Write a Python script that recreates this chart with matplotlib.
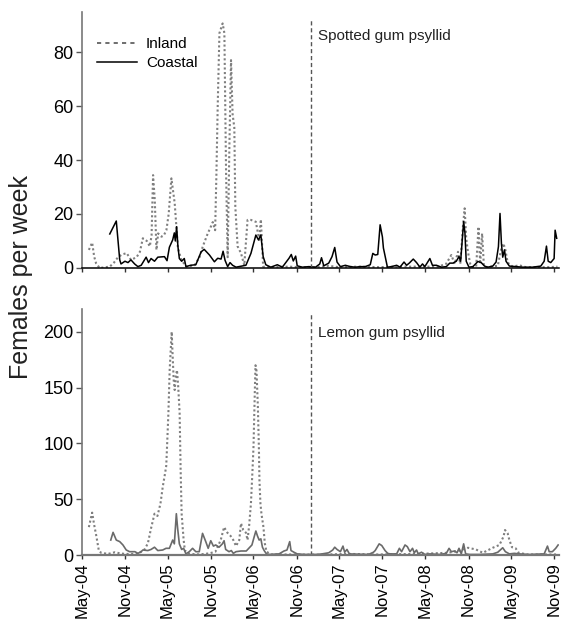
import numpy as np
import pandas as pd
import matplotlib
matplotlib.use("Agg")
import matplotlib.pyplot as plt
from matplotlib.lines import Line2D

plt.rcParams['font.family'] = ['Liberation Sans', 'DejaVu Sans']

START = pd.Timestamp('2004-05-01')

# ---- Spotted gum psyllid (top) ; x = months after 1 May 2004 ----
spotted_inland_t = [1.0, 1.46, 1.74, 2.01, 2.5, 3.92, 4.51, 5.07, 5.63, 6.28, 6.88, 7.67, 8.13, 8.54,
                    9.1, 9.51, 9.76, 9.97, 10.21, 10.44, 10.67, 11.14, 11.46, 11.83, 12.15, 12.53,
                    12.99, 13.44, 13.92, 14.61, 15.76, 16.46, 16.92, 17.61, 17.99, 18.31, 18.64,
                    18.82, 19.0, 19.24, 19.69, 19.93, 20.17, 20.39, 20.63, 20.86, 21.08, 21.32,
                    21.46, 21.78, 22.25, 22.71, 23.17, 23.64, 24.33, 24.79, 25.03, 25.21, 25.35,
                    26.18, 28.96, 30.35, 32.43, 34.51, 35.9, 38.69, 41.46, 44.24, 47.01, 49.79,
                    50.9, 51.64, 52.11, 52.57, 52.89, 53.26, 53.5, 53.72, 53.96, 54.28, 54.65,
                    55.11, 55.44, 55.67, 55.94, 56.18, 56.5, 58.13, 58.58, 58.92, 59.19, 59.51,
                    60.21, 61.14, 62.06, 65.35, 66.46]
spotted_inland = [6.7, 9.4, 4.2, 1.7, 0.0, 0.5, 2.0, 4.0, 5.0, 5.5, 3.0, 4.0, 6.0, 11.0,
                  10.0, 8.0, 12.0, 34.4, 25.0, 6.7, 12.8, 11.6, 12.0, 14.0, 20.0, 33.2,
                  24.0, 7.4, 3.0, 0.5, 1.0, 4.0, 8.0, 12.8, 15.0, 17.0, 14.0,
                  35.0, 60.0, 87.0, 90.6, 87.0, 35.0, 4.0, 45.0, 77.0, 57.0, 52.0,
                  22.7, 8.0, 5.5, 1.0, 17.8, 17.8, 17.1, 10.4, 18.0, 8.0, 0.5,
                  0.3, 0.5, 0.3, 0.2, 0.8, 0.3, 0.5, 0.3, 0.5, 0.5, 0.5,
                  1.5, 4.8, 1.5, 6.0, 1.5, 15.3, 22.1, 11.0, 6.0, 1.5, 0.3,
                  0.5, 15.3, 1.5, 12.8, 1.2, 0.3, 0.8, 6.7, 9.1, 6.7, 2.0,
                  0.5, 1.0, 0.3, 0.3, 0.5]

spotted_coastal_t = [3.92, 4.83, 5.31, 5.49, 6.04, 6.46, 6.88, 7.39, 7.85, 8.31, 9.0, 9.33, 9.69,
                     10.17, 10.63, 11.56, 11.92, 12.25, 12.71, 12.94, 13.08, 13.26, 13.44, 13.64,
                     13.96, 14.33, 14.56, 15.21, 15.94, 16.69, 17.11, 17.85, 18.54, 19.0, 19.47,
                     19.75, 20.03, 20.39, 20.72, 21.08, 21.56, 22.94, 23.64, 24.33, 24.69, 25.03,
                     25.35, 25.72, 26.42, 27.33, 28.03, 28.96, 29.28, 29.56, 29.89, 30.11, 30.81,
                     31.74, 32.67, 33.26, 33.5, 33.82, 34.51, 34.97, 35.35, 35.67, 36.14, 36.83,
                     37.53, 38.22, 38.92, 39.61, 40.31, 40.67, 41.0, 41.36, 41.69, 42.01, 42.15,
                     42.71, 43.26, 44.0, 44.47, 45.03, 45.39, 45.76, 46.32, 46.78, 47.25, 47.61,
                     47.94, 48.64, 49.0, 49.56, 50.25, 50.94, 51.42, 51.88, 52.33, 52.71, 52.94,
                     53.17, 53.36, 53.54, 53.72, 54.1, 54.65, 55.35, 55.81, 56.28, 56.74, 57.43,
                     57.89, 58.22, 58.44, 58.64, 58.82, 59.06, 59.28, 59.75, 60.67, 61.6, 62.99,
                     64.14, 64.61, 64.93, 65.17, 65.53, 66.0, 66.14, 66.36]
spotted_coastal = [12.6, 17.4, 3.0, 1.5, 2.5, 2.0, 3.0, 1.5, 0.5, 1.0, 4.0, 2.0, 3.5,
                   2.5, 4.0, 4.2, 2.7, 7.7, 10.4, 13.0, 10.0, 15.3, 8.0, 3.5,
                   2.5, 3.5, 0.5, 1.0, 1.2, 6.0, 6.9, 4.8, 2.3, 3.6, 3.3,
                   6.2, 2.8, 0.5, 2.0, 1.0, 0.3, 1.0, 5.4, 12.2, 10.4, 12.2,
                   4.2, 1.2, 0.3, 1.2, 0.3, 3.6, 5.0, 2.6, 4.4, 0.8, 0.3,
                   0.5, 0.3, 1.5, 3.8, 0.8, 1.8, 4.2, 7.6, 2.2, 0.5, 1.0,
                   0.5, 0.3, 0.5, 0.5, 1.2, 5.4, 4.8, 5.0, 16.0, 11.5, 7.4,
                   0.3, 0.5, 1.0, 0.3, 2.2, 1.0, 1.8, 3.3, 2.0, 0.3, 1.5,
                   0.5, 3.5, 1.0, 1.0, 0.3, 0.5, 1.8, 1.8, 2.5, 4.2, 2.5,
                   10.4, 17.2, 13.0, 2.5, 0.3, 0.5, 2.4, 2.0, 0.7, 0.3, 0.7,
                   2.2, 7.9, 20.2, 9.0, 4.0, 6.7, 2.5, 0.7, 0.5, 0.3, 0.3,
                   0.7, 2.5, 8.1, 2.5, 2.0, 3.5, 14.0, 11.0]

# ---- Lemon gum psyllid (bottom) ----
lemon_inland_t = [1.0, 1.46, 1.74, 2.06, 2.39, 2.71, 3.68, 4.65, 5.35, 6.04, 7.01, 7.85, 8.78,
                  9.24, 9.69, 10.17, 10.58, 11.0, 11.32, 11.64, 11.81, 11.92, 12.11, 12.29,
                  12.57, 12.67, 12.85, 12.99, 13.15, 13.31, 13.49, 13.68, 13.82, 13.96, 14.24,
                  14.42, 15.07, 16.46, 17.85, 18.68, 19.42, 19.89, 20.35, 20.81, 21.18, 21.56,
                  22.01, 22.25, 22.57, 22.94, 23.17, 23.4, 23.64, 23.86, 24.0, 24.19, 24.28,
                  24.42, 24.61, 24.75, 24.83, 24.97, 25.11, 25.39, 25.58, 25.81, 26.46, 28.96,
                  33.13, 37.29, 41.46, 47.01, 51.18, 52.85, 53.96, 55.07, 56.04, 57.43, 58.36,
                  58.92, 59.14, 59.51, 59.75, 60.11, 60.63, 61.04, 62.28, 66.46]
lemon_inland = [25, 38, 27, 16.4, 4, 2, 1, 2.5, 1.5, 1, 1, 1, 5,
                10.4, 24, 37, 35, 46, 61, 73, 80, 97, 127, 166,
                200, 183.6, 156.7, 147.8, 160, 165.7, 150, 127, 76, 37, 13.4,
                4, 1, 0.5, 1.5, 3, 13.4, 25, 20, 17, 13.4, 8,
                13.4, 28.4, 22.4, 20, 13.4, 27, 46, 76, 97, 148, 170,
                165, 133, 97, 67, 46, 37, 25, 10.5, 3, 0.5, 0.5,
                0.3, 1, 0.5, 1, 2, 4, 6.5, 5, 2, 6.5, 9,
                16.4, 22.4, 19.4, 13.4, 7, 6, 2, 0.5, 0.5]

lemon_coastal_t = [4.06, 4.38, 4.83, 5.31, 5.76, 6.22, 6.69, 7.43, 7.85, 8.31, 8.54, 9.24, 9.69,
                   10.17, 10.63, 11.32, 11.78, 12.25, 12.71, 12.94, 13.22, 13.4, 13.64, 13.96,
                   14.24, 14.56, 15.03, 15.49, 15.94, 16.42, 16.88, 17.33, 17.67, 18.03, 18.4,
                   18.72, 19.19, 19.65, 19.89, 20.11, 20.58, 20.9, 21.18, 21.56, 22.25, 22.99,
                   23.78, 24.1, 24.33, 24.56, 24.79, 25.03, 25.25, 25.49, 25.81, 26.18, 27.57,
                   28.26, 28.68, 29.06, 29.24, 29.65, 30.11, 31.04, 32.85, 33.58, 34.51, 35.07,
                   35.35, 35.67, 36.14, 36.5, 36.74, 37.06, 37.39, 38.22, 40.07, 40.76, 41.0,
                   41.56, 41.92, 42.38, 42.75, 43.08, 44.0, 44.38, 44.69, 45.17, 45.49, 45.86,
                   46.22, 46.46, 46.78, 47.01, 47.47, 47.94, 48.64, 50.03, 50.94, 51.32, 51.64,
                   52.11, 52.43, 52.71, 53.03, 53.36, 53.64, 54.19, 55.58, 57.43, 58.13, 58.82,
                   59.19, 59.75, 60.44, 61.14, 62.53, 64.61, 65.07, 65.31, 65.76, 66.22, 66.56]
lemon_coastal = [13.4, 20.3, 13.4, 12, 9, 4.5, 3, 3, 1.5, 3, 4.5, 4, 5,
                 7, 4, 4.5, 6, 6, 13.4, 10, 37, 24, 10, 5,
                 6, 1, 3, 6, 3, 3, 19.4, 12, 6, 12.8, 8,
                 9, 7, 10, 12.8, 5, 3, 4, 1.5, 3, 3.6, 3.6,
                 9, 16.4, 21.5, 17, 13.4, 14.5, 7, 4, 1, 0.5, 1,
                 3.6, 4.5, 12, 4, 2.5, 1, 0.5, 0.5, 1, 2, 4.5,
                 7, 5, 3, 8, 2.5, 5, 1, 0.8, 0.5, 2.5, 4,
                 10, 8.5, 4, 1.5, 1, 1, 6, 3, 9, 7.5, 3,
                 6, 2, 4.5, 1, 2.5, 0.5, 1, 0.5, 1.5, 6, 3,
                 3.6, 2, 6, 1, 10, 1, 0.5, 0.5, 1, 2.5, 6.5,
                 3, 1, 1.5, 1, 0.5, 1, 8, 3, 3, 6, 9]

tick_labels = ['May-04', 'Nov-04', 'May-05', 'Nov-05', 'May-06', 'Nov-06',
               'May-07', 'Nov-07', 'May-08', 'Nov-08', 'May-09', 'Nov-09']
change_date = '2007-01-01'
panel_titles = ['Spotted gum psyllid', 'Lemon gum psyllid']


def to_dates(t):
    return START + pd.to_timedelta(np.asarray(t) * 30.4375, unit='D')


fig = plt.figure(figsize=(5.62, 6.27), dpi=100)
ax1 = fig.add_axes([0.1454, 0.5726, 0.8490, 0.409])
ax2 = fig.add_axes([0.1454, 0.1148, 0.8490, 0.3917])

inland_style = dict(color='#7f7f7f', lw=1.5, linestyle=(0, (1.0, 1.2)))

ax1.plot(to_dates(spotted_inland_t), spotted_inland, **inland_style)
ax1.plot(to_dates(spotted_coastal_t), spotted_coastal, color='black', lw=1.1)
ax2.plot(to_dates(lemon_inland_t), lemon_inland, **inland_style)
ax2.plot(to_dates(lemon_coastal_t), lemon_coastal, color='#6a6a6a', lw=1.2)

tick_dates = [pd.Timestamp(f"20{s[-2:]}-{'05' if s.startswith('May') else '11'}-01") for s in tick_labels]
xmin = START
xmax = pd.Timestamp('2009-11-20')

for ax, ylim, yt, title, ymax in [(ax1, 95, [0, 20, 40, 60, 80], panel_titles[0], 0.975),
                                  (ax2, 220, [0, 50, 100, 150, 200], panel_titles[1], 0.985)]:
    ax.set_xlim(xmin, xmax)
    ax.set_ylim(0, ylim)
    ax.set_yticks(yt)
    ax.set_xticks(tick_dates)
    ax.spines['top'].set_visible(False)
    ax.spines['right'].set_visible(False)
    ax.spines['left'].set_color('#777777')
    ax.spines['left'].set_linewidth(1.2)
    ax.tick_params(axis='y', direction='out', length=4, width=1, color='#555555',
                   labelsize=13, pad=2)
    ax.tick_params(axis='x', direction='out', length=3, width=1, color='#333333',
                   labelsize=12, pad=2)
    ax.axvline(pd.Timestamp(change_date), ymin=0, ymax=ymax, color='#555555', lw=1.0,
               linestyle=(0, (3, 2)))
    ax.text(pd.Timestamp(change_date) + pd.Timedelta(days=30), ylim * 0.905, title,
            fontsize=11, color='#222222', va='center', ha='left')

ax1.spines['bottom'].set_color('black')
ax1.spines['bottom'].set_linewidth(1.1)
ax1.set_xticklabels([])
ax2.spines['bottom'].set_color('#777777')
ax2.spines['bottom'].set_linewidth(1.6)
ax2.set_xticklabels(tick_labels, rotation=90)

handles = [Line2D([], [], color='#555555', lw=1.2, linestyle=(0, (2.5, 2.5))),
           Line2D([], [], color='black', lw=1.1)]
ax1.legend(handles, ['Inland', 'Coastal'], loc='upper left', bbox_to_anchor=(0.0, 0.96),
           frameon=False, fontsize=11, handlelength=2.6, handletextpad=0.6,
           labelspacing=0.35, borderaxespad=0.6)

fig.text(0.037, 0.559, 'Females per week', rotation=90, fontsize=18,
         ha='center', va='center', color='#222222')

fig.savefig('out.png', dpi=100)
